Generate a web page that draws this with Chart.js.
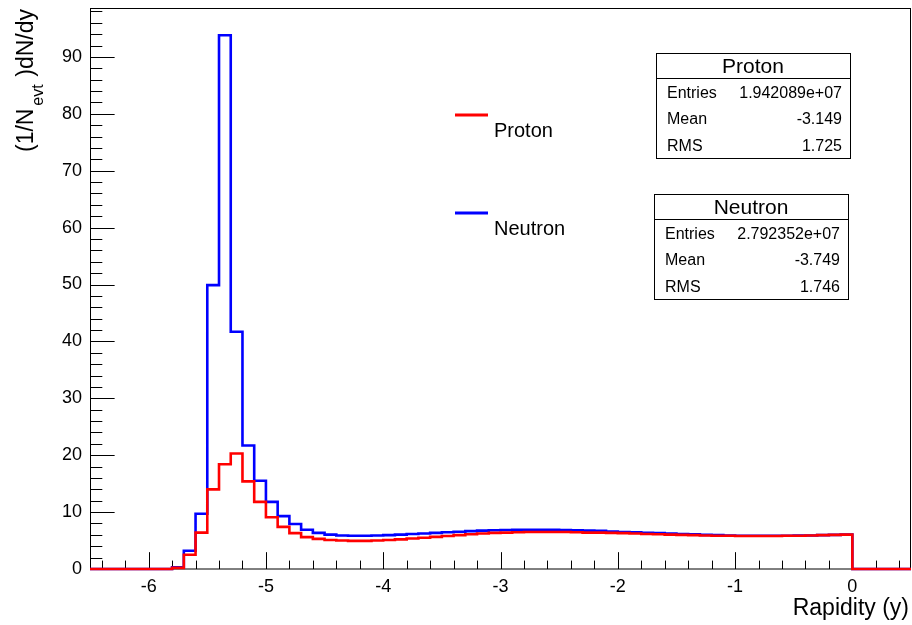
<!DOCTYPE html>
<html><head><meta charset="utf-8">
<script src="https://cdn.jsdelivr.net/npm/chart.js@4.4.1/dist/chart.umd.min.js"></script>
<style>html,body{margin:0;padding:0;background:#fff}#wrap{width:912px;height:625px;position:relative}</style>
</head><body><div id="wrap"><canvas id="c" width="912" height="625"></canvas></div>
<script>
// Bin lower edges (rapidity), bin width 0.1
const binLowEdges = [
 -6.5,-6.4,-6.3,-6.2,-6.1,-6.0,-5.9,-5.8,-5.7,-5.6,
 -5.5,-5.4,-5.3,-5.2,-5.1,-5.0,-4.9,-4.8,-4.7,-4.6,
 -4.5,-4.4,-4.3,-4.2,-4.1,-4.0,-3.9,-3.8,-3.7,-3.6,
 -3.5,-3.4,-3.3,-3.2,-3.1,-3.0,-2.9,-2.8,-2.7,-2.6,
 -2.5,-2.4,-2.3,-2.2,-2.1,-2.0,-1.9,-1.8,-1.7,-1.6,
 -1.5,-1.4,-1.3,-1.2,-1.1,-1.0,-0.9,-0.8,-0.7,-0.6,
 -0.5,-0.4,-0.3,-0.2,-0.1,0.0,0.1,0.2,0.3,0.4
];
const lastBinUpEdge = 0.5;
const protonValues = [
 0,0,0,0,0,0,0,0.2,2.5,6.4,
 14.0,18.4,20.3,15.4,11.8,9.1,7.4,6.3,5.6,5.3,
 5.1,5.0,4.95,4.95,5.0,5.1,5.2,5.35,5.5,5.65,
 5.8,5.95,6.1,6.25,6.35,6.4,6.45,6.5,6.5,6.5,
 6.5,6.45,6.4,6.4,6.35,6.3,6.25,6.15,6.1,6.05,
 6.0,5.95,5.9,5.85,5.85,5.8,5.8,5.8,5.8,5.85,
 5.85,5.9,5.95,6.0,6.05,0,0,0,0,0
];
const neutronValues = [
 0,0,0,0,0,0,0,0.3,3.2,9.7,
 49.9,93.8,41.7,21.7,15.5,11.8,9.3,7.9,6.9,6.35,
 6.05,5.9,5.85,5.85,5.9,5.95,6.05,6.15,6.25,6.35,
 6.45,6.55,6.65,6.75,6.8,6.85,6.9,6.9,6.9,6.9,
 6.85,6.8,6.75,6.7,6.6,6.5,6.45,6.35,6.3,6.25,
 6.15,6.1,6.0,5.95,5.9,5.85,5.85,5.85,5.85,5.85,
 5.9,5.9,5.95,6.0,6.05,0,0,0,0,0
];
const xTickValues = [-6,-5,-4,-3,-2,-1,0];
const yTickValues = [0,10,20,30,40,50,60,70,80,90];
const statsProton = {title:"Proton", entries:"1.942089e+07", mean:"-3.149", rms:"1.725"};
const statsNeutron = {title:"Neutron", entries:"2.792352e+07", mean:"-3.749", rms:"1.746"};

const FONT = '"Liberation Sans", Arial, Helvetica, sans-serif';

function histPoints(vals){
  const pts = binLowEdges.map((x,i)=>({x:x, y:vals[i]}));
  pts.push({x:lastBinUpEdge, y:vals[vals.length-1]});
  return pts;
}

const decor = {
  id:'decor',
  beforeDatasetsDraw(chart){
    const {ctx, chartArea:a, scales:{x,y}} = chart;
    ctx.save();
    ctx.strokeStyle = '#000';
    ctx.lineWidth = 1;
    ctx.strokeRect(Math.round(a.left)+0.5, Math.round(a.top)+0.5, Math.round(a.width)-1, Math.round(a.height)-0.5);
    const hx = a.height*0.03;
    ctx.beginPath();
    for(let k=-32;k<=2;k++){
      const v = k*0.2;
      const px = Math.round(x.getPixelForValue(v))+0.5;
      const major = Math.abs(v-Math.round(v))<1e-6;
      const len = major ? hx : hx/2;
      ctx.moveTo(px, a.bottom); ctx.lineTo(px, a.bottom-len);
    }
    const hy = a.width*0.03;
    for(let v=0; v<=98; v+=2){
      const py = Math.round(y.getPixelForValue(v))+0.5;
      const len = (v%10===0) ? hy : hy/2;
      ctx.moveTo(a.left, py); ctx.lineTo(a.left+len, py);
    }
    ctx.stroke();
    ctx.restore();
  },
  afterDraw(chart){
    const {ctx} = chart;
    ctx.save();
    ctx.fillStyle = '#000';
    ctx.font = '23px '+FONT;
    ctx.textAlign = 'right'; ctx.textBaseline = 'alphabetic';
    ctx.fillText('Rapidity (y)', 909, 615);
    ctx.save();
    ctx.translate(33, 0);
    ctx.rotate(-Math.PI/2);
    ctx.font = '23px '+FONT;
    ctx.textAlign = 'left';
    ctx.fillText('(1/N', -152, 0);
    ctx.textAlign = 'right';
    ctx.fillText(')dN/dy', -9, 0);
    ctx.font = '16px '+FONT;
    ctx.textAlign = 'center';
    ctx.fillText('evt', -95, 10);
    ctx.restore();
    ctx.lineWidth = 3;
    ctx.strokeStyle = '#ff0000';
    ctx.beginPath(); ctx.moveTo(455,115); ctx.lineTo(488,115); ctx.stroke();
    ctx.strokeStyle = '#0000ff';
    ctx.beginPath(); ctx.moveTo(455,213); ctx.lineTo(488,213); ctx.stroke();
    ctx.font = '20px '+FONT;
    ctx.textAlign = 'left';
    ctx.fillText(chart.data.datasets[0].label, 494, 137);
    ctx.fillText(chart.data.datasets[1].label, 494, 235);
    function box(s, l, t, r, b, div, rows){
      ctx.fillStyle = '#fff';
      ctx.fillRect(l, t, r-l, b-t);
      ctx.strokeStyle = '#000'; ctx.lineWidth = 1;
      ctx.strokeRect(l+0.5, t+0.5, r-l, b-t);
      ctx.beginPath(); ctx.moveTo(l, div+0.5); ctx.lineTo(r, div+0.5); ctx.stroke();
      ctx.fillStyle = '#000';
      ctx.font = '21px '+FONT; ctx.textAlign = 'center';
      ctx.fillText(s.title, (l+r)/2, div-5);
      ctx.font = '16px '+FONT;
      const labels = ['Entries','Mean','RMS'];
      const vals = [s.entries, s.mean, s.rms];
      for(let i=0;i<3;i++){
        ctx.textAlign='left'; ctx.fillText(labels[i], l+11, rows[i]);
        ctx.textAlign='right'; ctx.fillText(vals[i], r-8, rows[i]);
      }
    }
    box(statsProton, 656, 53, 850, 158, 78, [98,124,151]);
    box(statsNeutron, 654, 194, 848, 299, 219, [239,265,292]);
    ctx.restore();
  }
};

new Chart(document.getElementById('c'), {
  type:'line',
  data:{
    datasets:[
      {label:'Proton', data:histPoints(protonValues), borderColor:'#ff0000', borderWidth:2.6, stepped:'before', pointRadius:0, fill:false, tension:0, clip:3, order:0},
      {label:'Neutron', data:histPoints(neutronValues), borderColor:'#0000ff', borderWidth:2.6, stepped:'before', pointRadius:0, fill:false, tension:0, clip:3, order:1}
    ]
  },
  options:{
    responsive:false, animation:false, devicePixelRatio:1,
    layout:{padding:{top:8, right:1, left:0, bottom:0}},
    plugins:{legend:{display:false}, tooltip:{enabled:false}},
    scales:{
      x:{type:'linear', min:-6.5, max:0.5,
        grid:{display:false, drawTicks:false}, border:{display:false},
        afterBuildTicks(s){ s.ticks = xTickValues.map(v=>({value:v})); },
        afterFit(s){ s.height = 56; s.paddingLeft = 0; s.paddingRight = 0; },
        ticks:{padding:7, color:'#000', font:{family:FONT, size:18}, maxRotation:0, autoSkip:false,
          callback:(v)=>String(v)}
      },
      y:{type:'linear', min:0, max:98.6,
        grid:{display:false, drawTicks:false}, border:{display:false},
        afterBuildTicks(s){ s.ticks = yTickValues.map(v=>({value:v})); },
        afterFit(s){ s.width = 90; s.paddingTop = 0; s.paddingBottom = 0; },
        ticks:{padding:8, color:'#000', font:{family:FONT, size:18}, autoSkip:false,
          callback:(v)=>String(v)}
      }
    }
  },
  plugins:[decor]
});
</script>
</body></html>
